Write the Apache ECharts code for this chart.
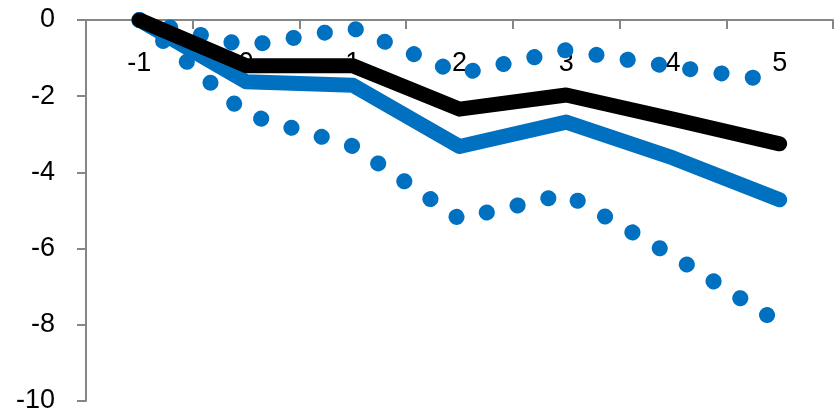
<!DOCTYPE html>
<html><head><meta charset="utf-8">
<script src="https://cdn.jsdelivr.net/npm/echarts@6/dist/echarts.min.js"></script>
<style>html,body{margin:0;padding:0;background:#fff}#c{width:835px;height:415px}</style>
</head><body><div id="c"></div>
<script>
var categories = ['-1','0','1','2','3','4','5'];
var blackLine = [0, -1.2, -1.2, -2.34, -1.97, -2.6, -3.25];
var blueLine = [0, -1.62, -1.71, -3.32, -2.68, -3.62, -4.72];
var upperBand = [0, -0.68, -0.21, -1.41, -0.79, -1.23, -1.61];
var lowerBand = [0, -2.47, -3.31, -5.22, -4.57, -6.19, -7.95];
var yTicks = {min: -10, max: 0, interval: 2};

var chart = echarts.init(document.getElementById('c'), null, {renderer: 'canvas'});
var axisColor = '#868686';
var font = 'Liberation Sans';
function dotted(data) {
  return {type: 'line', data: data, symbol: 'none', silent: true,
    lineStyle: {color: '#0070C0', width: 16, type: [0.1, 31.5], cap: 'round', join: 'round'}};
}
chart.setOption({
  animation: false,
  grid: {left: 86, right: 2, top: 20, bottom: 14, containLabel: false, outerBoundsMode: 'none'},
  xAxis: {type: 'category', data: categories, boundaryGap: true, position: 'top',
    axisLine: {onZero: false, lineStyle: {color: axisColor, width: 2}},
    axisTick: {show: true, inside: true, length: 9, alignWithLabel: false, lineStyle: {color: axisColor, width: 2}},
    axisLabel: {inside: true, margin: 30, color: '#000', fontSize: 27, fontFamily: font, interval: 0},
    splitLine: {show: false}},
  yAxis: {type: 'value', min: yTicks.min, max: yTicks.max, interval: yTicks.interval,
    axisLine: {show: true, onZero: false, lineStyle: {color: axisColor, width: 2}},
    axisTick: {show: true, length: 9, lineStyle: {color: axisColor, width: 2}},
    axisLabel: {margin: 31, color: '#000', fontSize: 27, fontFamily: font},
    splitLine: {show: false}},
  series: [
    dotted(upperBand),
    dotted(lowerBand),
    {type: 'line', data: blueLine, symbol: 'none', lineStyle: {color: '#0070C0', width: 15, cap: 'round', join: 'round'}},
    {type: 'line', data: blackLine, symbol: 'none', lineStyle: {color: '#000000', width: 15, cap: 'round', join: 'round'}}
  ]
});
</script></body></html>
